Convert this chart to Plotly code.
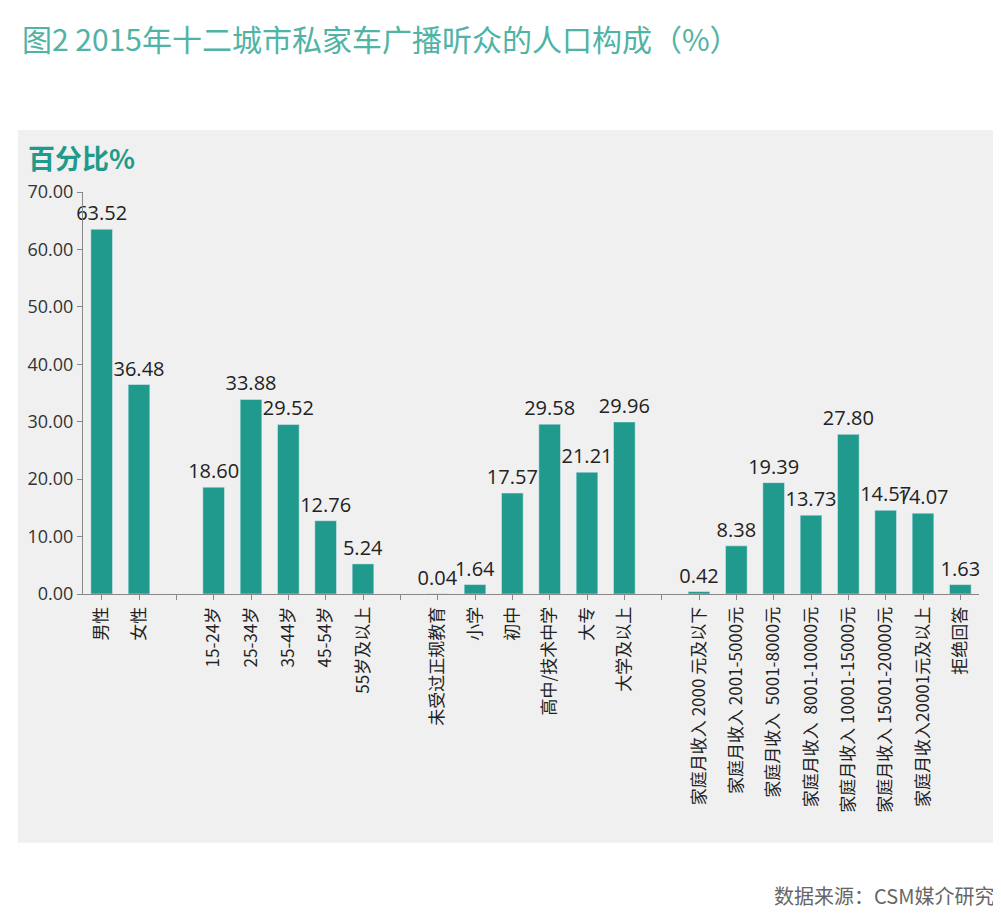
import plotly.graph_objects as go

categories = ["男性", "女性", " ", "15-24岁", "25-34岁", "35-44岁", "45-54岁", "55岁及以上", "  ",
              "未受过正规教育", "小学", "初中", "高中/技术中学", "大专", "大学及以上", "   ",
              "家庭月收入 2000 元及以下", "家庭月收入 2001-5000元", "家庭月收入  5001-8000元",
              "家庭月收入  8001-10000元", "家庭月收入 10001-15000元", "家庭月收入 15001-20000元",
              "家庭月收入20001元及以上", "拒绝回答"]
values = [63.52, 36.48, None, 18.60, 33.88, 29.52, 12.76, 5.24, None,
          0.04, 1.64, 17.57, 29.58, 21.21, 29.96, None,
          0.42, 8.38, 19.39, 13.73, 27.80, 14.57, 14.07, 1.63]
labels = ["" if v is None else f"{v:.2f}" for v in values]
yticks = [0, 10, 20, 30, 40, 50, 60, 70]

font = "Noto Sans CJK SC"
fig = go.Figure(go.Bar(
    x=categories, y=[0 if v is None else v for v in values],
    text=labels, textposition="outside", cliponaxis=False, textangle=0,
    constraintext="none",
    textfont=dict(size=20, color="#222", family="Open Sans"),
    marker=dict(color="#1f9a8c"), width=0.58))

fig.update_layout(
    width=1001, height=920, paper_bgcolor="white", plot_bgcolor="#f0f0f0",
    margin=dict(l=75, r=30, t=184, b=334), showlegend=False,
    font=dict(family=font, color="#222"),
    xaxis=dict(tickangle=-90, tickfont=dict(size=17), showline=True, linecolor="#888",
               ticks="outside", tickcolor="#888", ticklen=5, showgrid=False),
    yaxis=dict(range=[0, 70], tickvals=yticks, ticktext=[f"{v:.2f}" for v in yticks],
               tickfont=dict(size=18, color="#333", family="Open Sans"), showline=True,
               linecolor="#888", ticks="outside", tickcolor="#888", ticklen=5,
               showgrid=False, zeroline=False),
    shapes=[dict(type="rect", xref="paper", yref="paper", x0=-0.0725, x1=1.021, y0=-0.619, y1=1.154,
                 fillcolor="#f0f0f0", line=dict(width=0), layer="below")],
    annotations=[
        dict(text="图2 2015年十二城市私家车广播听众的人口构成（%）", xref="paper", yref="paper",
             x=-0.0703, y=1.383, xanchor="left", yanchor="middle", showarrow=False,
             font=dict(size=30, color="#4fb3a5", family=font)),
        dict(text="<b>百分比%</b>", xref="paper", yref="paper", x=-0.064, y=1.085,
             xanchor="left", yanchor="middle", showarrow=False,
             font=dict(size=27, color="#1f9a8c", family=font)),
        dict(text="数据来源：CSM媒介研究", xref="paper", yref="paper", x=1.019, y=-0.749,
             xanchor="right", yanchor="middle", showarrow=False,
             font=dict(size=20, color="#666", family=font)),
    ])
fig.write_html("out.html")
